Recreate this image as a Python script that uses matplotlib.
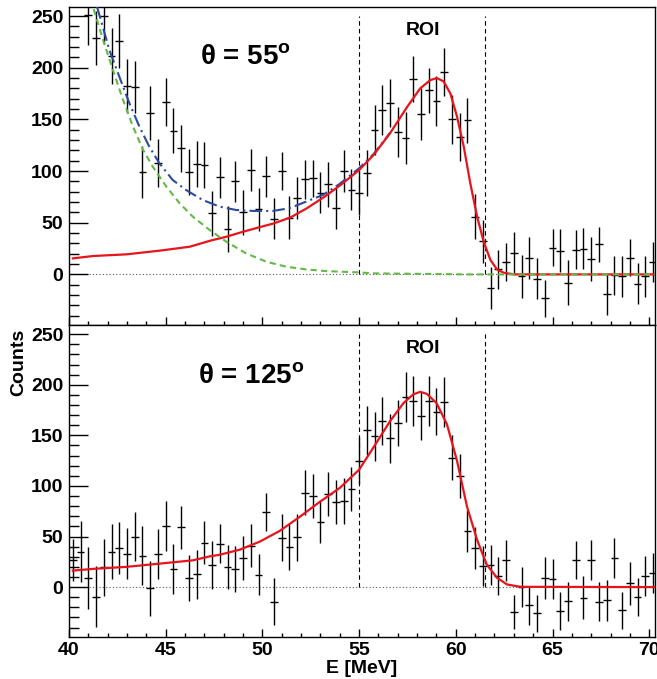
import matplotlib
matplotlib.use("Agg")
import matplotlib.pyplot as plt
from matplotlib.ticker import MultipleLocator

plt.rcParams["font.family"] = ["Liberation Sans", "DejaVu Sans"]
plt.rcParams["font.weight"] = "bold"
plt.rcParams["mathtext.fontset"] = "custom"
plt.rcParams["mathtext.rm"] = "Liberation Sans"
plt.rcParams["mathtext.bf"] = "Liberation Sans:bold"

# bin centres (0.4 MeV bins)
energy = [40.2, 40.6, 41.0, 41.4, 41.8, 42.2, 42.6, 43.0, 43.4, 43.8,
          44.2, 44.6, 45.0, 45.4, 45.8, 46.2, 46.6, 47.0, 47.4, 47.8,
          48.2, 48.6, 49.0, 49.4, 49.8, 50.2, 50.6, 51.0, 51.4, 51.8,
          52.2, 52.6, 53.0, 53.4, 53.8, 54.2, 54.6, 55.0, 55.4, 55.8,
          56.2, 56.6, 57.0, 57.4, 57.8, 58.2, 58.6, 59.0, 59.4, 59.8,
          60.2, 60.6, 61.0, 61.4, 61.8, 62.2, 62.6, 63.0, 63.4, 63.8,
          64.2, 64.6, 65.0, 65.4, 65.8, 66.2, 66.6, 67.0, 67.4, 67.8,
          68.2, 68.6, 69.0, 69.4, 69.8, 70.2]

# theta = 55 deg
counts_55 = [330, 300, 251, 229, 250, 211, 226, 182, 181, 99,
             156, 108, 167, 139, 122, 99, 107, 106, 59, 94,
             44, 90, 60, 101, 63, 95, 54, 100, 55, 74,
             92, 93, 79, 87, 64, 100, 82, 79, 98, 140,
             159, 166, 138, 132, 189, 155, 178, 168, 196, 150,
             133, 149, 56, 32, -13, 5, 12, 21, -2, 16,
             -4, -23, 26, 23, -8, 24, 25, 15, 29, -19,
             -1, -2, 16, -9, -2, 12]
err_55 = [30, 30, 29, 26, 27, 27, 26, 26, 25, 25,
          26, 23, 23, 22, 23, 22, 22, 22, 22, 20,
          22, 20, 22, 20, 21, 20, 20, 18, 21, 20,
          19, 18, 20, 22, 20, 20, 20, 22, 22, 24,
          24, 23, 24, 25, 22, 25, 22, 24, 23, 24,
          23, 22, 22, 21, 20, 19, 18, 20, 21, 20,
          20, 18, 18, 21, 22, 19, 20, 21, 17, 20,
          19, 20, 18, 20, 20, 19]

# theta = 125 deg
counts_125 = [27, 35, 9, -9.5, 19.6, 35, 38.6, 33, 50, 31,
              -1.3, 33, 60.5, 18, 59, 9, 12.7, 44, 22, 43,
              20, 18, 29, 41, 12.4, 74, -14.4, 49, 39.5, 49.3,
              93.5, 90, 64.7, 92, 84, 85, 97, 125, 155, 149,
              164, 147, 162, 188, 184, 169, 184, 173.5, 183, 128,
              110, 55.6, 38.6, 21, 22, 11, 26.5, -24.5, 0, -18,
              -26, 9, 8, -23.5, -14, 27, -10.5, 27, -14.4, -13,
              29, -23, 3.6, -9.5, 11, 14]
err_125 = [21, 30, 31, 30, 28, 27, 26, 25, 24, 29,
           27, 24.5, 25, 25, 21.5, 23, 24, 21, 24, 19,
           22, 23, 22, 21, 20.5, 19, 23.5, 23, 23, 23,
           22, 22, 21, 22, 22, 23, 22, 23, 24, 24,
           24, 24, 23, 25, 25, 24, 25, 23, 25, 22,
           22, 21, 21, 20, 20, 19, 20, 17, 20, 19,
           18, 21, 20, 19, 19, 19, 21, 20, 19, 20,
           20, 18, 21, 19, 20, 20]

# fit curves
fit55_e = [40.2, 41.25, 42.97, 44.7, 46.25, 47.3, 48.15, 49.0, 49.9, 50.6,
           51.46, 52.3, 53.2, 54.05, 55.0, 55.75, 56.6, 57.5, 58.16, 58.68,
           59.02, 59.37, 59.72, 60.06, 60.41, 60.75, 61.1, 61.44, 61.79, 62.13,
           62.48, 63.0, 70.35]
fit55_c = [15.5, 17.8, 19.4, 23, 26.8, 32.6, 36.5, 41.3, 45.9, 49.4,
           55.2, 64, 75, 86.6, 101, 115.6, 136.6, 162.5, 180, 188,
           190, 186.7, 175, 152.8, 123.7, 88, 56, 31.7, 13.9, 4.8,
           1.6, 0, 0]

total55_e = [41.45, 42.09, 42.6, 43.12, 43.64, 44.15, 44.67, 45.36, 46.05, 46.91,
             47.78, 48.64, 49.5, 50.54, 51.4, 52.26, 53.13, 53.99, 55.0, 55.75, 56.6]
total55_c = [259, 217, 191.5, 165.7, 143, 123.7, 107.6, 91.4, 81.7, 72,
             65.6, 62.3, 61.4, 61.4, 64, 70.4, 76.9, 87.5, 102.7, 116.5, 137]

bkg55_e = [41.1, 41.24, 41.76, 42.27, 42.79, 43.31, 43.83, 44.34, 45.03, 45.72,
           46.4, 47.27, 48.13, 49.16, 50.2, 51.24, 52.27, 53.3, 55.0, 55.75,
           59.2, 60.5, 70.35]
bkg55_c = [275, 259, 227, 198, 169, 143, 120.5, 104, 85, 68.8,
           55.9, 43, 31.7, 20.3, 12.3, 7.4, 4.8, 3.2, 1.9, 1.0,
           0.3, 0, 0]

fit125_e = [40.2, 41.23, 42.96, 44.68, 46.41, 47.28, 47.8, 48.83, 49.87, 50.9,
            51.94, 52.97, 54.0, 55.0, 55.74, 56.6, 57.3, 57.8, 58.16, 58.5,
            59.0, 59.54, 60.06, 60.58, 61.1, 61.6, 62.13, 62.65, 63.34, 70.35]
fit125_c = [16.3, 18, 20, 23.2, 26.5, 30.4, 32, 37, 45, 55.6,
            69.6, 84.3, 98, 116, 138, 164, 182, 190.5, 193, 191,
            182, 161, 125, 79.4, 46.7, 22.2, 9.2, 2.6, 0.3, 0]

roi_lo, roi_hi = 55.0, 61.5

fig = plt.figure(figsize=(6.57, 6.79), dpi=100)
ax_top = fig.add_axes([0.105, 0.5213, 0.892, 0.4688])
ax_bot = fig.add_axes([0.105, 0.0623, 0.892, 0.459])


def style_axis(ax, show_xlabels):
    ax.set_xlim(40, 70.3)
    ax.set_ylim(-49, 259)
    ax.xaxis.set_major_locator(MultipleLocator(5))
    ax.xaxis.set_minor_locator(MultipleLocator(1))
    ax.yaxis.set_major_locator(MultipleLocator(50))
    ax.yaxis.set_minor_locator(MultipleLocator(10))
    ax.tick_params(axis="y", which="major", direction="in", length=14, width=1,
                   labelsize=14, pad=4, right=False)
    ax.tick_params(axis="y", which="minor", direction="in", length=7, width=1, right=False)
    ax.tick_params(axis="x", which="major", direction="in", length=6, width=1,
                   labelsize=14, pad=4, top=False, labelbottom=show_xlabels)
    ax.tick_params(axis="x", which="minor", direction="in", length=3, width=1, top=False)
    ax.set_yticks([0, 50, 100, 150, 200, 250])
    for s in ax.spines.values():
        s.set_linewidth(1.0)
    ax.axhline(0, color="#555555", lw=0.8, ls=(0, (1, 2)), zorder=1)
    for xv in (roi_lo, roi_hi):
        ax.plot([xv, xv], [0, 250], color="black", lw=0.8, ls=(0, (4, 3)), zorder=1)
    ax.text(58.3, 236, "ROI", fontsize=14, fontweight="bold", ha="center", va="center")


style_axis(ax_top, False)
style_axis(ax_bot, True)

ax_top.errorbar(energy, counts_55, yerr=err_55, xerr=0.2, fmt="none",
                ecolor="black", elinewidth=1.0, capsize=0, zorder=2)
ax_top.plot(total55_e, total55_c, color="#2b4aa0", lw=1.5, ls=(0, (6, 2, 1, 2)), zorder=3)
ax_top.plot(fit55_e, fit55_c, color="#e8141c", lw=1.6, zorder=4)
ax_top.plot(bkg55_e, bkg55_c, color="#63b846", lw=1.5, ls=(0, (3, 2)), zorder=5)
ax_top.text(49.1, 209, r"$\mathrm{\theta}$ = 55$^{\mathbf{o}}$", fontsize=20,
            fontweight="bold", ha="center", va="center")

ax_bot.errorbar(energy, counts_125, yerr=err_125, xerr=0.2, fmt="none",
                ecolor="black", elinewidth=1.0, capsize=0, zorder=2)
ax_bot.plot(fit125_e, fit125_c, color="#e8141c", lw=1.6, zorder=4)
ax_bot.text(49.4, 208, r"$\mathrm{\theta}$ = 125$^{\mathbf{o}}$", fontsize=20,
            fontweight="bold", ha="center", va="center")

fig.text(0.028, 0.467, "Counts", rotation=90, fontsize=14, fontweight="bold",
         ha="center", va="center")
fig.text(0.551, 0.003, "E [MeV]", fontsize=14, fontweight="bold",
         ha="center", va="bottom")

fig.savefig("out.png", dpi=100)
